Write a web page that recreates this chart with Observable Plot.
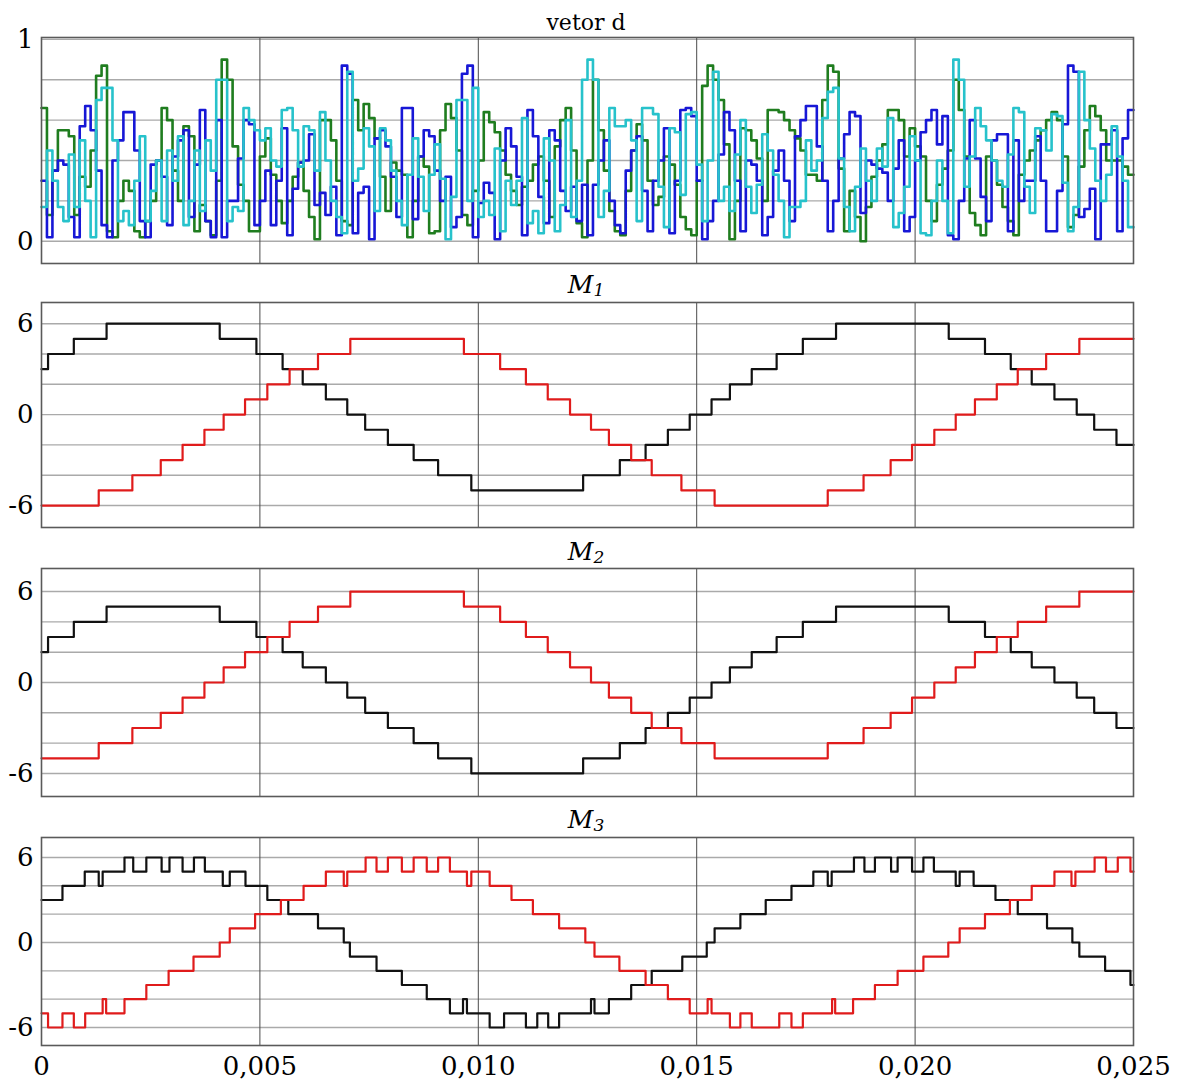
<!DOCTYPE html>
<html><head><meta charset="utf-8">
<script src="https://cdn.jsdelivr.net/npm/d3@7"></script>
<script src="https://cdn.jsdelivr.net/npm/@observablehq/plot@0.6"></script>
<style>
body{margin:0;background:#fff;}
#wrap{position:relative;width:1187px;height:1083px;font-family:"DejaVu Serif",serif;overflow:hidden;}
.panel{position:absolute;left:0;}
.title{position:absolute;left:586px;font-size:22px;color:#000;transform:translateX(-50%);white-space:nowrap;line-height:1;font-family:"DejaVu Serif",serif;}
.title i{font-size:25px;}
.title sub{font-size:17px;vertical-align:-3px;}
</style></head><body><div id="wrap"></div>
<script>
// ---------- vetor d : duty values (%) per sample, sample period 0.125 ms ----------
const dSamplePeriod = 0.000125;
const dGreen = [66,13,35,55,55,52,13,32,27,45,82,87,5,2,20,30,25,5,2,10,20,40,66,60,35,20,57,52,5,18,10,3,30,90,
80,47,28,20,5,5,42,51,33,20,9,20,32,39,25,12,1,60,60,50,30,10,8,70,55,68,61,51,32,15,39,35,33,
2,20,42,37,4,5,55,68,61,45,13,8,25,40,64,59,54,45,33,25,18,27,30,38,42,30,12,47,60,66,45,9,2,
40,80,55,35,15,5,3,25,45,58,50,30,18,22,42,38,28,12,6,3,30,77,87,80,70,48,1,20,56,55,50,41,20,65,65,64,60,55,51,45,
33,33,30,70,87,84,36,5,25,12,0,17,32,40,48,65,65,60,42,56,47,42,20,10,28,36,45,80,65,42,14,8,3,42,40,28,17,10,3,33,40,45,50,55,60,64,60,42,7,13,37,55,67,62,55,40,40,40,37,33];
const dBlue = [30,2,35,40,38,12,2,57,67,55,35,8,2,40,50,64,64,45,10,2,38,40,32,8,42,50,55,12,38,65,10,2,60,2,
20,20,41,60,58,8,20,35,8,30,56,3,26,39,40,53,18,24,13,27,3,87,83,4,24,27,1,51,55,47,32,12,66,
66,11,42,55,52,35,20,32,7,12,83,87,2,19,29,24,1,40,56,47,32,3,65,52,22,9,55,50,25,15,27,10,28,
3,28,40,50,20,8,4,35,45,52,25,5,30,40,56,4,30,65,66,62,30,1,10,20,43,64,55,30,5,40,38,30,3,12,35,45,30,10,52,60,
67,67,47,30,5,20,41,53,64,62,14,40,38,36,34,20,36,50,5,12,40,54,60,65,48,62,3,1,20,41,60,41,22,10,50,53,53,5,50,20,30,30,52,30,5,5,25,58,87,84,12,16,26,1,48,48,55,5,51,65];
const dCyan = [17,45,30,17,10,43,17,50,20,2,70,76,76,50,10,15,8,30,52,10,25,40,10,45,30,52,8,20,45,15,50,35,80,80,
10,17,15,66,60,55,50,56,40,37,65,66,55,37,57,55,35,64,40,20,12,4,84,30,36,56,47,15,56,50,35,20,8,
33,51,32,15,33,48,31,1,22,70,70,20,76,12,20,13,46,5,30,18,30,61,9,15,4,51,40,5,18,60,12,30,80,
90,80,12,25,66,57,57,60,50,10,66,66,63,27,7,56,54,23,63,64,38,10,40,84,20,27,15,43,60,27,14,28,53,45,33,20,2,17,17,20,
50,35,40,61,74,76,41,17,5,27,46,30,20,46,37,61,7,14,27,52,40,4,3,20,40,20,4,90,80,27,42,66,57,50,40,30,27,43,66,64,27,14,56,55,45,63,62,29,5,17,84,60,46,30,20,33,57,42,30,7];

// ---------- M signals : [time s, level] step-after ----------
const m1Black = [[0,3],[0.00015,4],[0.00074,5],[0.00149,6],[0.00408,5],[0.00492,4],[0.00552,3],[0.00598,2],[0.00651,1],[0.00700,0],[0.00741,-1],[0.00793,-2],[0.00852,-3],[0.00908,-4],[0.00984,-5],[0.01240,-4],[0.01324,-3],[0.01383,-2],[0.01434,-1],[0.01484,0],[0.01534,1],[0.01576,2],[0.01626,3],[0.01683,4],[0.01743,5],[0.01819,6],[0.02077,5],[0.02160,4],[0.02219,3],[0.02267,2],[0.02319,1],[0.02370,0],[0.02410,-1],[0.02461,-2],[0.025,-2]];
const m1Red = [[0,-6],[0.00131,-5],[0.00208,-4],[0.00273,-3],[0.00323,-2],[0.00373,-1],[0.00417,0],[0.00466,1],[0.00517,2],[0.00568,3],[0.00633,4],[0.00707,5],[0.00967,4],[0.01050,3],[0.01109,2],[0.01159,1],[0.01210,0],[0.01258,-1],[0.01299,-2],[0.01350,-3],[0.01397,-4],[0.01465,-5],[0.01541,-6],[0.01800,-5],[0.01882,-4],[0.01944,-3],[0.01993,-2],[0.02044,-1],[0.02093,0],[0.02137,1],[0.02187,2],[0.02235,3],[0.02300,4],[0.02376,5],[0.025,5]];
const m2Black = [[0,2],[0.00015,3],[0.00074,4],[0.00149,5],[0.00408,4],[0.00492,3],[0.00552,2],[0.00598,1],[0.00651,0],[0.00700,-1],[0.00741,-2],[0.00793,-3],[0.00852,-4],[0.00908,-5],[0.00984,-6],[0.01240,-5],[0.01324,-4],[0.01383,-3],[0.01434,-2],[0.01484,-1],[0.01534,0],[0.01576,1],[0.01626,2],[0.01683,3],[0.01743,4],[0.01819,5],[0.02077,4],[0.02160,3],[0.02219,2],[0.02267,1],[0.02319,0],[0.02370,-1],[0.02410,-2],[0.02461,-3],[0.025,-3]];
const m2Red = [[0,-5],[0.00131,-4],[0.00208,-3],[0.00273,-2],[0.00323,-1],[0.00373,0],[0.00417,1],[0.00466,2],[0.00517,3],[0.00568,4],[0.00633,5],[0.00707,6],[0.00967,5],[0.01050,4],[0.01109,3],[0.01159,2],[0.01210,1],[0.01258,0],[0.01299,-1],[0.01350,-2],[0.01397,-3],[0.01465,-4],[0.01541,-5],[0.01800,-4],[0.01882,-3],[0.01944,-2],[0.01993,-1],[0.02044,0],[0.02093,1],[0.02137,2],[0.02187,3],[0.02235,4],[0.02300,5],[0.02376,6],[0.025,6]];
const m3Black = [[0,3],[0.00048,4],[0.00099,5],[0.00131,4],[0.0014,5],[0.0019,6],[0.0021,5],[0.0024,6],[0.00275,5],[0.00293,6],[0.00323,5],[0.00349,6],[0.00374,5],[0.00415,4],[0.00431,5],[0.00467,4],[0.00517,3],[0.00565,2],[0.00633,1],[0.00692,0],[0.00706,-1],[0.00767,-2],[0.00825,-3],[0.00882,-4],[0.00935,-5],[0.00965,-4],[0.00974,-5],[0.01026,-6],[0.01059,-5],[0.01109,-6],[0.01135,-5],[0.0116,-6],[0.01185,-5],[0.01258,-4],[0.01266,-5],[0.01299,-4],[0.0135,-3],[0.01397,-2],[0.01467,-1],[0.01523,0],[0.01541,1],[0.016,2],[0.01658,3],[0.01717,4],[0.01767,5],[0.018,4],[0.01809,5],[0.0186,6],[0.01884,5],[0.01908,6],[0.01945,5],[0.0196,6],[0.01993,5],[0.02019,6],[0.02043,5],[0.02093,4],[0.02102,5],[0.02134,4],[0.02184,3],[0.02235,2],[0.02302,1],[0.0236,0],[0.02376,-1],[0.02435,-2],[0.02493,-3],[0.025,-3]];
const m3Red = [[0,-5],[0.00015,-6],[0.00048,-5],[0.00074,-6],[0.001,-5],[0.0014,-4],[0.00148,-5],[0.0019,-4],[0.0024,-3],[0.00291,-2],[0.00348,-1],[0.00408,0],[0.00431,1],[0.00489,2],[0.00548,3],[0.006,4],[0.00651,5],[0.00692,4],[0.007,5],[0.00742,6],[0.00767,5],[0.00793,6],[0.00825,5],[0.00852,6],[0.00882,5],[0.00908,6],[0.00935,5],[0.00974,4],[0.00984,5],[0.01026,4],[0.01076,3],[0.01125,2],[0.01185,1],[0.01245,0],[0.01266,-1],[0.01323,-2],[0.01383,-3],[0.01434,-4],[0.01484,-5],[0.01525,-4],[0.01534,-5],[0.01576,-6],[0.016,-5],[0.01626,-6],[0.01689,-5],[0.01717,-6],[0.01743,-5],[0.0181,-4],[0.01817,-5],[0.01858,-4],[0.01908,-3],[0.0196,-2],[0.02019,-1],[0.02076,0],[0.02102,1],[0.0216,2],[0.02217,3],[0.02267,4],[0.02319,5],[0.02358,4],[0.02367,5],[0.02411,6],[0.02437,5],[0.02464,6],[0.02493,5],[0.025,5]];

const xTicks = [0, 0.005, 0.010, 0.015, 0.020, 0.025];
const xGrid = [0.005, 0.010, 0.015, 0.020];
const dTicks = [0, 1];
const dGrid = [0, 0.2, 0.4, 0.6, 0.8, 1.0];
const mTicks = [-6, 0, 6];
const mGrid = [-6, -4, -2, 0, 2, 4, 6];
const titles = ["vetor d", "M1", "M2", "M3"];

const colors = {green:"#1f7d1f", blue:"#1717d6", cyan:"#27c2cb", black:"#111111", red:"#e01b1b"};

function dSeries(vals){
  const pts = vals.map((v,i)=>[i*dSamplePeriod, v/100]);
  pts.push([0.025, vals[vals.length-1]/100]);
  return pts;
}

const wrap = document.getElementById("wrap");
const xFmt = d => d === 0 ? "0" : d.toFixed(3).replace(".", ",");

function panel({top, height, mt, mb, yDomain, yTicks, yGrid, series, showX}){
  const svg = Plot.plot({
    width: 1187, height, marginLeft: 41, marginRight: 54, marginTop: mt, marginBottom: mb,
    style: {fontFamily: "DejaVu Serif, serif", fontSize: "26px", color: "#000", background: "transparent", overflow: "visible"},
    x: {domain: [0, 0.025], ticks: xTicks, tickFormat: xFmt, label: null, tickSize: 0, tickPadding: 11, axis: showX ? "bottom" : null},
    y: {domain: yDomain, ticks: yTicks, tickFormat: d => String(d), label: null, tickSize: 0, tickPadding: 8},
    marks: [
      Plot.ruleY(yGrid, {stroke: "#aaaaaa", strokeWidth: 1.4}),
      Plot.ruleX(xGrid, {stroke: "#4a4a4a", strokeWidth: 1}),
      ...series.map(s => Plot.line(s.data, {x: d => d[0], y: d => d[1], curve: "step-after", stroke: s.color, strokeWidth: s.w || 2.2})),
      Plot.frame({stroke: "#5a5a5a", strokeWidth: 1.6})
    ]
  });
  svg.classList.add("panel");
  svg.style.top = top + "px";
  wrap.appendChild(svg);
}

panel({top: 0, height: 280, mt: 37, mb: 17, yDomain: [-0.11, 1.0095], yTicks: dTicks, yGrid: dGrid,
  series: [{data: dSeries(dGreen), color: colors.green, w: 2.6}, {data: dSeries(dBlue), color: colors.blue, w: 2.6}, {data: dSeries(dCyan), color: colors.cyan, w: 2.6}], showX: false});
panel({top: 280, height: 267, mt: 22, mb: 20, yDomain: [-7.45, 7.4], yTicks: mTicks, yGrid: mGrid,
  series: [{data: m1Black, color: colors.black}, {data: m1Red, color: colors.red}], showX: false});
panel({top: 547, height: 264, mt: 21, mb: 15, yDomain: [-7.52, 7.52], yTicks: mTicks, yGrid: mGrid,
  series: [{data: m2Black, color: colors.black}, {data: m2Red, color: colors.red}], showX: false});
panel({top: 811, height: 272, mt: 26, mb: 38, yDomain: [-7.27, 7.41], yTicks: mTicks, yGrid: mGrid,
  series: [{data: m3Black, color: colors.black}, {data: m3Red, color: colors.red}], showX: true});

// titles
const tpos = [12, 272, 539, 807];
titles.forEach((t, i) => {
  const div = document.createElement("div");
  div.className = "title";
  div.style.top = tpos[i] + "px";
  if (i === 0) div.textContent = t;
  else { const it = document.createElement("i"); it.textContent = t[0]; const sb = document.createElement("sub"); sb.textContent = t.slice(1); it.appendChild(sb); div.appendChild(it); }
  wrap.appendChild(div);
});
</script></body></html>
